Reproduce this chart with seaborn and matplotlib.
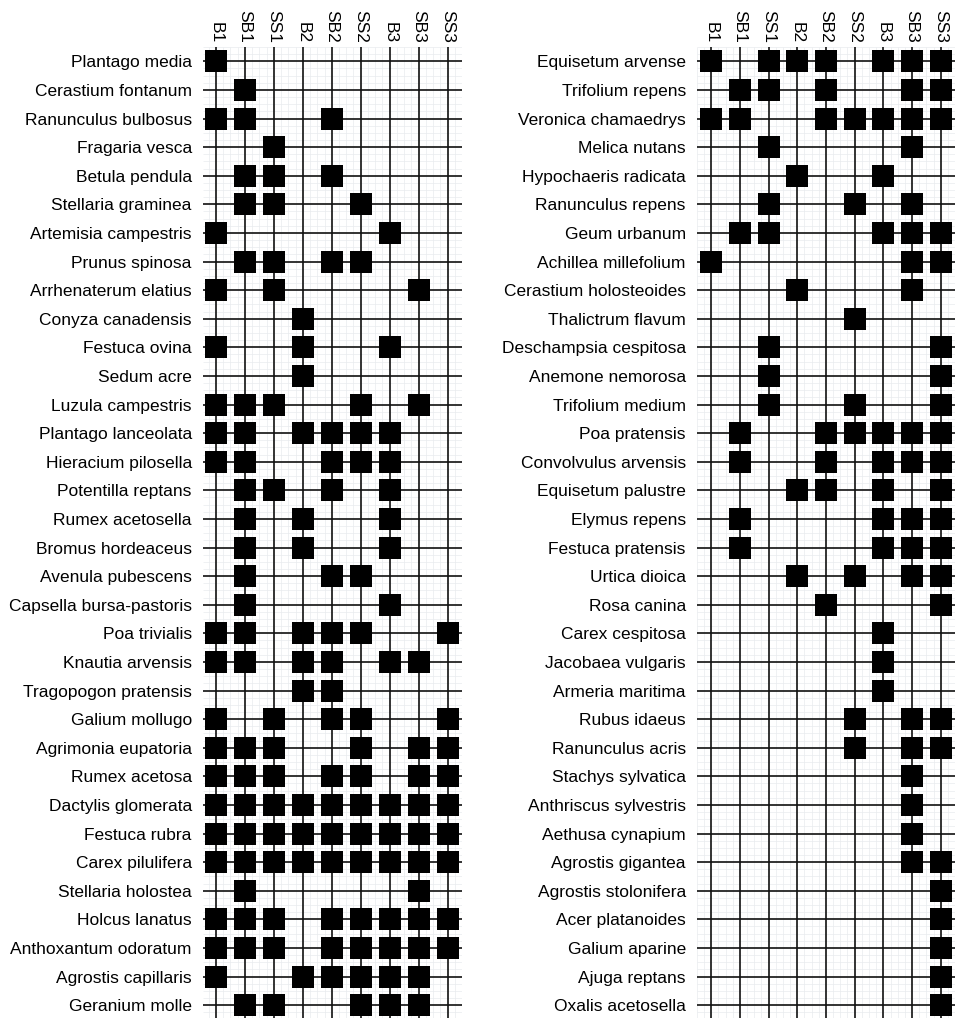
import matplotlib
matplotlib.use("Agg")
import matplotlib.pyplot as plt
import numpy as np
import pandas as pd
import seaborn as sns

sites = ["B1", "SB1", "SS1", "B2", "SB2", "SS2", "B3", "SB3", "SS3"]

left_species = [
    "Plantago media", "Cerastium fontanum", "Ranunculus bulbosus", "Fragaria vesca",
    "Betula pendula", "Stellaria graminea", "Artemisia campestris", "Prunus spinosa",
    "Arrhenaterum elatius", "Conyza canadensis", "Festuca ovina", "Sedum acre",
    "Luzula campestris", "Plantago lanceolata", "Hieracium pilosella", "Potentilla reptans",
    "Rumex acetosella", "Bromus hordeaceus", "Avenula pubescens", "Capsella bursa-pastoris",
    "Poa trivialis", "Knautia arvensis", "Tragopogon pratensis", "Galium mollugo",
    "Agrimonia eupatoria", "Rumex acetosa", "Dactylis glomerata", "Festuca rubra",
    "Carex pilulifera", "Stellaria holostea", "Holcus lanatus", "Anthoxantum odoratum",
    "Agrostis capillaris", "Geranium molle",
]

# presence (1) / absence (0) per site, columns in the order of `sites`
left_presence = [
    [1, 0, 0, 0, 0, 0, 0, 0, 0],
    [0, 1, 0, 0, 0, 0, 0, 0, 0],
    [1, 1, 0, 0, 1, 0, 0, 0, 0],
    [0, 0, 1, 0, 0, 0, 0, 0, 0],
    [0, 1, 1, 0, 1, 0, 0, 0, 0],
    [0, 1, 1, 0, 0, 1, 0, 0, 0],
    [1, 0, 0, 0, 0, 0, 1, 0, 0],
    [0, 1, 1, 0, 1, 1, 0, 0, 0],
    [1, 0, 1, 0, 0, 0, 0, 1, 0],
    [0, 0, 0, 1, 0, 0, 0, 0, 0],
    [1, 0, 0, 1, 0, 0, 1, 0, 0],
    [0, 0, 0, 1, 0, 0, 0, 0, 0],
    [1, 1, 1, 0, 0, 1, 0, 1, 0],
    [1, 1, 0, 1, 1, 1, 1, 0, 0],
    [1, 1, 0, 0, 1, 1, 1, 0, 0],
    [0, 1, 1, 0, 1, 0, 1, 0, 0],
    [0, 1, 0, 1, 0, 0, 1, 0, 0],
    [0, 1, 0, 1, 0, 0, 1, 0, 0],
    [0, 1, 0, 0, 1, 1, 0, 0, 0],
    [0, 1, 0, 0, 0, 0, 1, 0, 0],
    [1, 1, 0, 1, 1, 1, 0, 0, 1],
    [1, 1, 0, 1, 1, 0, 1, 1, 0],
    [0, 0, 0, 1, 1, 0, 0, 0, 0],
    [1, 0, 1, 0, 1, 1, 0, 0, 1],
    [1, 1, 1, 0, 0, 1, 0, 1, 1],
    [1, 1, 1, 0, 1, 1, 0, 1, 1],
    [1, 1, 1, 1, 1, 1, 1, 1, 1],
    [1, 1, 1, 1, 1, 1, 1, 1, 1],
    [1, 1, 1, 1, 1, 1, 1, 1, 1],
    [0, 1, 0, 0, 0, 0, 0, 1, 0],
    [1, 1, 1, 0, 1, 1, 1, 1, 1],
    [1, 1, 1, 0, 1, 1, 1, 1, 1],
    [1, 0, 0, 1, 1, 1, 1, 1, 0],
    [0, 1, 1, 0, 0, 1, 1, 1, 0],
]

right_species = [
    "Equisetum arvense", "Trifolium repens", "Veronica chamaedrys", "Melica nutans",
    "Hypochaeris radicata", "Ranunculus repens", "Geum urbanum", "Achillea millefolium",
    "Cerastium holosteoides", "Thalictrum flavum", "Deschampsia cespitosa", "Anemone nemorosa",
    "Trifolium medium", "Poa pratensis", "Convolvulus arvensis", "Equisetum palustre",
    "Elymus repens", "Festuca pratensis", "Urtica dioica", "Rosa canina",
    "Carex cespitosa", "Jacobaea vulgaris", "Armeria maritima", "Rubus idaeus",
    "Ranunculus acris", "Stachys sylvatica", "Anthriscus sylvestris", "Aethusa cynapium",
    "Agrostis gigantea", "Agrostis stolonifera", "Acer platanoides", "Galium aparine",
    "Ajuga reptans", "Oxalis acetosella",
]

right_presence = [
    [1, 0, 1, 1, 1, 0, 1, 1, 1],
    [0, 1, 1, 0, 1, 0, 0, 1, 1],
    [1, 1, 0, 0, 1, 1, 1, 1, 1],
    [0, 0, 1, 0, 0, 0, 0, 1, 0],
    [0, 0, 0, 1, 0, 0, 1, 0, 0],
    [0, 0, 1, 0, 0, 1, 0, 1, 0],
    [0, 1, 1, 0, 0, 0, 1, 1, 1],
    [1, 0, 0, 0, 0, 0, 0, 1, 1],
    [0, 0, 0, 1, 0, 0, 0, 1, 0],
    [0, 0, 0, 0, 0, 1, 0, 0, 0],
    [0, 0, 1, 0, 0, 0, 0, 0, 1],
    [0, 0, 1, 0, 0, 0, 0, 0, 1],
    [0, 0, 1, 0, 0, 1, 0, 0, 1],
    [0, 1, 0, 0, 1, 1, 1, 1, 1],
    [0, 1, 0, 0, 1, 0, 1, 1, 1],
    [0, 0, 0, 1, 1, 0, 1, 0, 1],
    [0, 1, 0, 0, 0, 0, 1, 1, 1],
    [0, 1, 0, 0, 0, 0, 1, 1, 1],
    [0, 0, 0, 1, 0, 1, 0, 1, 1],
    [0, 0, 0, 0, 1, 0, 0, 0, 1],
    [0, 0, 0, 0, 0, 0, 1, 0, 0],
    [0, 0, 0, 0, 0, 0, 1, 0, 0],
    [0, 0, 0, 0, 0, 0, 1, 0, 0],
    [0, 0, 0, 0, 0, 1, 0, 1, 1],
    [0, 0, 0, 0, 0, 1, 0, 1, 1],
    [0, 0, 0, 0, 0, 0, 0, 1, 0],
    [0, 0, 0, 0, 0, 0, 0, 1, 0],
    [0, 0, 0, 0, 0, 0, 0, 1, 0],
    [0, 0, 0, 0, 0, 0, 0, 1, 1],
    [0, 0, 0, 0, 0, 0, 0, 0, 1],
    [0, 0, 0, 0, 0, 0, 0, 0, 1],
    [0, 0, 0, 0, 0, 0, 0, 0, 1],
    [0, 0, 0, 0, 0, 0, 0, 0, 1],
    [0, 0, 0, 0, 0, 0, 0, 0, 1],
]

sns.set_style("white")
plt.rcParams["font.family"] = ["Liberation Sans", "DejaVu Sans"]
plt.rcParams["text.color"] = "black"
plt.rcParams["xtick.color"] = "black"
plt.rcParams["ytick.color"] = "black"


def to_long(species, presence):
    rows = []
    for sp, flags in zip(species, presence):
        for site, f in zip(sites, flags):
            if f:
                rows.append((sp, site))
    df = pd.DataFrame(rows, columns=["species", "site"])
    df["species"] = pd.Categorical(df["species"], categories=species, ordered=True)
    df["site"] = pd.Categorical(df["site"], categories=sites, ordered=True)
    return df


def between(n):
    # fine graph-paper lines that sit between the category lines
    pos = []
    for k in range(-1, n + 1):
        pos.extend([k + 0.25, k + 0.5, k + 0.75])
    return np.array(pos)


def draw_panel(ax, species, presence, xlim):
    df = to_long(species, presence)
    sns.scatterplot(data=df, x="site", y="species", ax=ax, marker="s",
                    s=262, color="black", linewidth=0, legend=False, zorder=3)
    ax.set_xticks(range(len(sites)))
    ax.set_xticklabels(sites, rotation=270)
    ax.set_yticks(range(len(species)))
    ax.set_yticklabels(species)
    ylim = (len(species) - 0.55, -0.5)
    ax.set_xlim(*xlim)
    ax.set_ylim(*ylim)
    ax.xaxis.tick_top()
    ax.xaxis.set_label_position("top")
    ax.set_xlabel("")
    ax.set_ylabel("")

    # faint graph-paper background beneath the category grid
    ax.vlines(between(len(sites)), ylim[1], ylim[0], colors="#e9ebee",
              linewidth=0.5, zorder=0.1)
    ax.hlines(between(len(species)), xlim[0], xlim[1], colors="#e9ebee",
              linewidth=0.5, zorder=0.1)
    ax.set_xlim(*xlim)
    ax.set_ylim(*ylim)

    ax.set_axisbelow(True)
    ax.grid(True, which="major", color="#111111", linewidth=1.2, linestyle="-")
    ax.tick_params(axis="x", which="both", length=0, pad=3, labelsize=12.5,
                   labelcolor="black")
    ax.tick_params(axis="y", which="both", length=0, pad=8, labelsize=12.5,
                   labelcolor="black")
    for side in ax.spines.values():
        side.set_visible(False)


fig = plt.figure(figsize=(9.56, 10.22), dpi=100)
ax_left = fig.add_axes([0.2123, 0.0039, 0.2710, 0.9501])
ax_right = fig.add_axes([0.7290, 0.0039, 0.2700, 0.9501])

draw_panel(ax_left, left_species, left_presence, (-0.45, 8.5))
draw_panel(ax_right, right_species, right_presence, (-0.5, 8.5))

fig.savefig("out.png", dpi=100)
